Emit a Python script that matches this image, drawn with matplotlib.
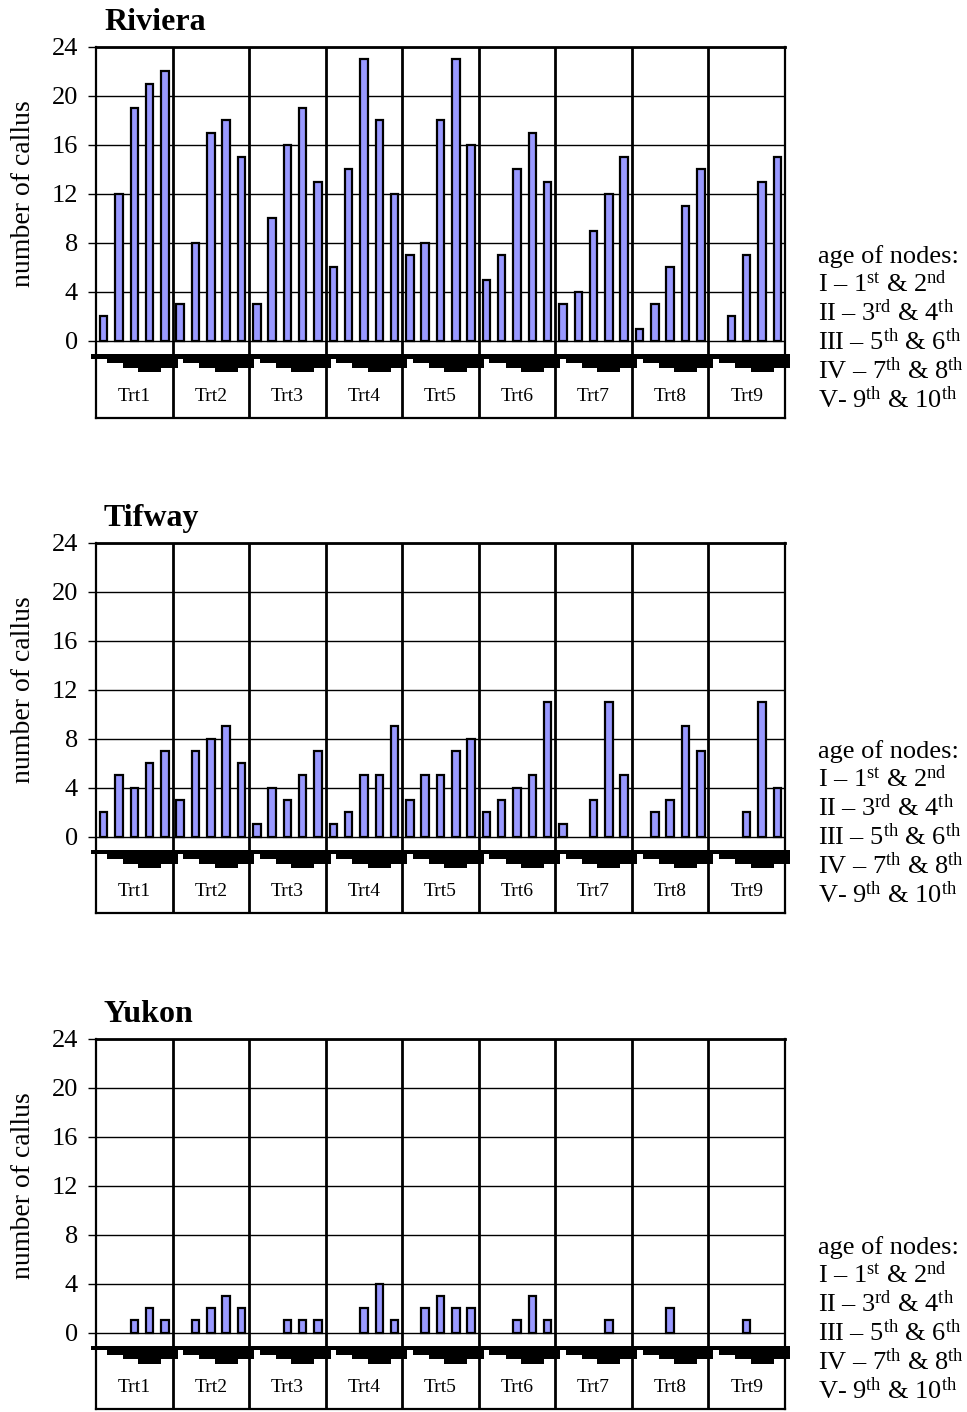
import matplotlib
matplotlib.use("Agg")
import matplotlib.pyplot as plt
from matplotlib.patches import Rectangle

plt.rcParams['font.family'] = ['Liberation Serif', 'DejaVu Serif']
plt.rcParams['mathtext.fontset'] = 'custom'
plt.rcParams['mathtext.rm'] = 'Liberation Serif'
plt.rcParams['mathtext.it'] = 'Liberation Serif:italic'
plt.rcParams['mathtext.bf'] = 'Liberation Serif:bold'

# ---------------- data ----------------
treatments = ["Trt1", "Trt2", "Trt3", "Trt4", "Trt5", "Trt6", "Trt7", "Trt8", "Trt9"]
node_ages = ["I", "II", "III", "IV", "V"]

riviera = [
    [2, 12, 19, 21, 22],
    [3, 8, 17, 18, 15],
    [3, 10, 16, 19, 13],
    [6, 14, 23, 18, 12],
    [7, 8, 18, 23, 16],
    [5, 7, 14, 17, 13],
    [3, 4, 9, 12, 15],
    [1, 3, 6, 11, 14],
    [0, 2, 7, 13, 15],
]
tifway = [
    [2, 5, 4, 6, 7],
    [3, 7, 8, 9, 6],
    [1, 4, 3, 5, 7],
    [1, 2, 5, 5, 9],
    [3, 5, 5, 7, 8],
    [2, 3, 4, 5, 11],
    [1, 0, 3, 11, 5],
    [0, 2, 3, 9, 7],
    [0, 0, 2, 11, 4],
]
yukon = [
    [0, 0, 1, 2, 1],
    [0, 1, 2, 3, 2],
    [0, 0, 1, 1, 1],
    [0, 0, 2, 4, 1],
    [0, 2, 3, 2, 2],
    [0, 0, 1, 3, 1],
    [0, 0, 0, 1, 0],
    [0, 0, 2, 0, 0],
    [0, 0, 1, 0, 0],
]
yticks = [0, 4, 8, 12, 16, 20, 24]
panel_titles = ["Riviera", "Tifway", "Yukon"]
panel_data = [riviera, tifway, yukon]
ylabel = "number of callus"
legend_lines = [
    "age of nodes:",
    "I \u2013 1$^{\\mathrm{st}}$ & 2$^{\\mathrm{nd}}$",
    "II \u2013 3$^{\\mathrm{rd}}$ & 4$^{\\mathrm{th}}$",
    "III \u2013 5$^{\\mathrm{th}}$ & 6$^{\\mathrm{th}}$",
    "IV \u2013 7$^{\\mathrm{th}}$ & 8$^{\\mathrm{th}}$",
    "V- 9$^{\\mathrm{th}}$ & 10$^{\\mathrm{th}}$",
]

# ---------------- layout ----------------
W, H = 967, 1412
fig = plt.figure(figsize=(W / 100, H / 100), dpi=100)

left_px, right_px = 96, 785
ymin, ymax = -6.25, 24
px_per_unit = 294 / 24.0
tops = [47, 542.7, 1038.5]

bar_color = "#9999FF"
nb = len(node_ages)
ng = len(treatments)

for p, (title, data, top) in enumerate(zip(panel_titles, panel_data, tops)):
    height_px = (ymax - ymin) * px_per_unit
    bottom_px = top + height_px
    ax = fig.add_axes([left_px / W, 1 - bottom_px / H,
                       (right_px - left_px) / W, height_px / H])
    ax.set_xlim(0, ng)
    ax.set_ylim(ymin, ymax)

    # gridlines
    for t in yticks:
        ax.axhline(t, color="black", lw=1.0, zorder=1)
    # bars (zero values are not drawn)
    for g in range(ng):
        xs = [g + (i + 0.5) / nb for i in range(nb) if data[g][i] > 0]
        vs = [v for v in data[g] if v > 0]
        ax.bar(xs, vs, width=0.098, color=bar_color, edgecolor="black",
               linewidth=1.6, zorder=3)
    # category separators
    for g in range(1, ng):
        ax.axvline(g, color="black", lw=2.0, zorder=4)
    # black artefact band under the axis
    for g in range(ng):
        levels = [(-0.065, 1.065, -1.09, -1.45),
                  (0.14, 1.065, -1.45, -1.80),
                  (0.35, 1.065, -1.80, -2.20),
                  (0.55, 0.85, -2.20, -2.55)]
        for x0, x1, y0, y1 in levels:
            x1c = min(g + x1, ng + 0.065)
            ax.add_patch(Rectangle((g + x0, y1), x1c - (g + x0), y0 - y1,
                                   facecolor="black", edgecolor="none",
                                   zorder=5, clip_on=False))
        ax.text(g + 0.5, -4.5, treatments[g], ha="center", va="center",
                fontsize=14)

    ax.set_yticks(yticks)
    ax.set_yticklabels([str(t) for t in yticks], fontsize=19)
    ax.tick_params(axis="y", direction="out", length=6, width=1, pad=7)
    ax.set_xticks([])
    for s in ["left", "right", "bottom"]:
        ax.spines[s].set_linewidth(1.6)
    ax.spines["top"].set_linewidth(2.0)

    # title
    fig.text(104 / W, 1 - (top - 17) / H, title, fontsize=23, fontweight="bold",
             ha="left", va="baseline")
    # y label
    zero_px = top + 24 * px_per_unit
    fig.text(24 / W, 1 - ((top + zero_px) / 2) / H, ylabel, rotation=90,
             fontsize=20, ha="center", va="center")
    # legend text
    first_base = bottom_px - 155
    for k, line in enumerate(legend_lines):
        fig.text(818 / W, 1 - (first_base + 29 * k) / H, line, fontsize=19,
                 ha="left", va="baseline")

fig.savefig("out.png", dpi=100, facecolor="white")
